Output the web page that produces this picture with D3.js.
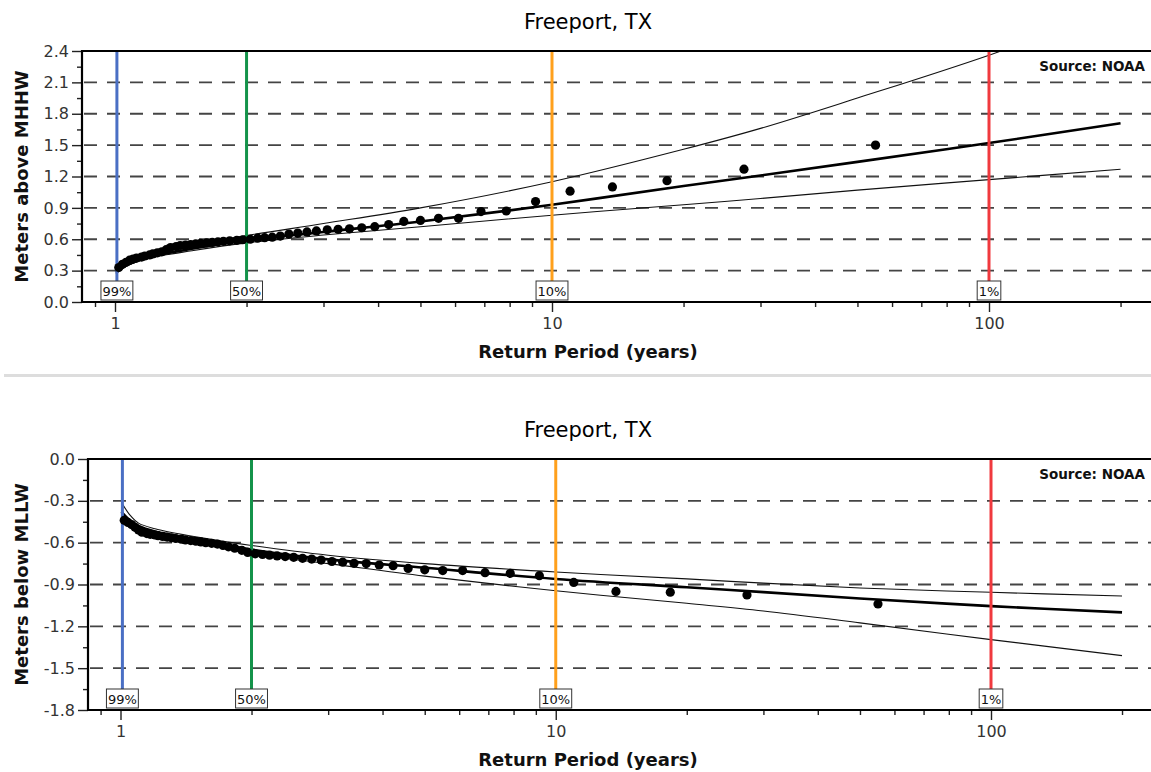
<!DOCTYPE html>
<html>
<head>
<meta charset="utf-8">
<script src="https://cdn.jsdelivr.net/npm/d3@7/dist/d3.min.js"></script>
<style>
  body { margin: 0; background: #fff; }
  svg { display: block; font-family: "DejaVu Sans", sans-serif; }
</style>
</head>
<body>
<svg id="chart" width="1151" height="772"></svg>
<script>
// ---------- DATA ----------
const chartTitle = "Freeport, TX";
const xAxisTitle = "Return Period (years)";
const sourceText = "Source: NOAA";

// Return periods (years) of the ranked annual extremes
const periods = [55, 27.5, 18.33, 13.75, 11, 9.17, 7.86, 6.88, 6.11, 5.5,
  5.0, 4.58, 4.23, 3.93, 3.67, 3.44, 3.24, 3.06, 2.89, 2.75,
  2.62, 2.5, 2.39, 2.29, 2.2, 2.12, 2.04, 1.96, 1.9, 1.83,
  1.77, 1.72, 1.67, 1.62, 1.57, 1.53, 1.49, 1.45, 1.41, 1.38,
  1.34, 1.31, 1.28, 1.25, 1.22, 1.2, 1.17, 1.15, 1.12, 1.1,
  1.08, 1.06, 1.04, 1.02];

// Top panel: annual highest levels (m above MHHW)
const highObs = [1.50, 1.27, 1.16, 1.10, 1.06, 0.96, 0.87, 0.865, 0.80, 0.80,
  0.78, 0.77, 0.74, 0.72, 0.71, 0.70, 0.695, 0.69, 0.68, 0.67,
  0.66, 0.65, 0.63, 0.62, 0.615, 0.61, 0.60, 0.595, 0.59, 0.585,
  0.58, 0.575, 0.57, 0.565, 0.56, 0.555, 0.55, 0.545, 0.54, 0.53,
  0.52, 0.50, 0.48, 0.47, 0.46, 0.45, 0.44, 0.43, 0.42, 0.41,
  0.40, 0.38, 0.36, 0.33];

// Bottom panel: annual lowest levels (m below MLLW)
const lowObs = [-1.04, -0.975, -0.955, -0.95, -0.885, -0.837, -0.82, -0.815, -0.80, -0.80,
  -0.795, -0.785, -0.765, -0.76, -0.75, -0.748, -0.74, -0.735, -0.725, -0.718,
  -0.712, -0.705, -0.70, -0.695, -0.69, -0.685, -0.68, -0.67, -0.655, -0.64,
  -0.63, -0.62, -0.61, -0.605, -0.60, -0.595, -0.59, -0.585, -0.58, -0.575,
  -0.57, -0.565, -0.56, -0.555, -0.55, -0.545, -0.54, -0.535, -0.525, -0.51,
  -0.49, -0.47, -0.455, -0.44];

// Fitted curve & confidence limits, sampled at these return periods
const curvePeriods = [1.005, 1.05, 1.1, 1.2, 1.5, 2, 3, 5, 10, 20, 30, 50, 100, 200];
const highFit   = [0.28, 0.34, 0.38, 0.43, 0.51, 0.59, 0.67, 0.77, 0.93, 1.11, 1.21, 1.34, 1.52, 1.71];
const highUpper = [0.29, 0.355, 0.395, 0.45, 0.54, 0.635, 0.75, 0.90, 1.15, 1.46, 1.66, 1.95, 2.36, 2.82];
const highLower = [0.27, 0.33, 0.37, 0.42, 0.49, 0.565, 0.64, 0.72, 0.83, 0.93, 0.99, 1.07, 1.17, 1.27];
const lowFit    = [-0.38, -0.44, -0.48, -0.52, -0.58, -0.65, -0.72, -0.78, -0.86, -0.92, -0.955, -1.00, -1.055, -1.10];
const lowUpper  = [-0.31, -0.40, -0.46, -0.50, -0.56, -0.62, -0.69, -0.75, -0.81, -0.86, -0.89, -0.925, -0.956, -0.983];
const lowLower  = [-0.42, -0.47, -0.50, -0.54, -0.60, -0.68, -0.75, -0.84, -0.945, -1.035, -1.09, -1.175, -1.295, -1.41];

// Axis ticks
const xMajorTicks = [1, 10, 100];
const xMinorTicks = [0.9, 2, 3, 4, 5, 6, 7, 8, 9, 20, 30, 40, 50, 60, 70, 80, 90, 200];
const highYTicks = [0.0, 0.3, 0.6, 0.9, 1.2, 1.5, 1.8, 2.1, 2.4];
const lowYTicks  = [-1.8, -1.5, -1.2, -0.9, -0.6, -0.3, 0.0];

// Annual exceedance probability markers
const aepLabels  = ["99%", "50%", "10%", "1%"];
const aepPeriods = [1.0101, 2, 10, 100];
const aepColors  = ["#4a6fc4", "#14934a", "#ffa01c", "#f0393e"];

// ---------- DRAWING ----------
const svg = d3.select("#chart");
const W = 1151;

function drawPanel(p) {
  const g = svg.append("g");
  const x = d3.scaleLog().domain([1, 100]).range([p.x1, p.x100]);
  const y = d3.scaleLinear().domain(p.yDomain).range([p.bottom, p.top]);

  const clipId = "clip" + p.id;
  svg.append("clipPath").attr("id", clipId)
    .append("rect").attr("x", p.left).attr("y", p.top)
    .attr("width", W - p.left).attr("height", p.bottom - p.top);

  // title
  g.append("text").attr("x", 588).attr("y", p.top - 22)
    .attr("text-anchor", "middle").attr("font-size", 21).attr("fill", "#000")
    .text(chartTitle);

  // dashed grid
  const grid = p.yTicks.filter(v => v > p.yDomain[0] && v < p.yDomain[1]);
  g.selectAll(".grid").data(grid).join("line")
    .attr("x1", p.left + 2).attr("x2", W)
    .attr("y1", d => y(d)).attr("y2", d => y(d))
    .attr("stroke", "#444").attr("stroke-width", 1.8)
    .attr("stroke-dasharray", "13,10");

  // source
  g.append("text").attr("x", 1145).attr("y", p.top + 20)
    .attr("text-anchor", "end").attr("font-size", 13.5).attr("font-weight", "bold")
    .attr("fill", "#111").text(sourceText);

  // curves
  const line = d3.line()
    .x((d, i) => x(curvePeriods[i]))
    .y(d => y(d))
    .curve(d3.curveCatmullRom.alpha(0.5));
  const cg = g.append("g").attr("clip-path", `url(#${clipId})`);
  cg.append("path").attr("d", line(p.upper)).attr("fill", "none")
    .attr("stroke", "#111").attr("stroke-width", 1.1);
  cg.append("path").attr("d", line(p.lower)).attr("fill", "none")
    .attr("stroke", "#111").attr("stroke-width", 1.1);
  cg.append("path").attr("d", line(p.fit)).attr("fill", "none")
    .attr("stroke", "#000").attr("stroke-width", 2.6);

  // AEP vertical lines
  const boxTop = p.bottom - 21;
  g.selectAll(".aep").data(aepPeriods).join("line")
    .attr("x1", d => x(d)).attr("x2", d => x(d))
    .attr("y1", p.top).attr("y2", boxTop)
    .attr("stroke", (d, i) => aepColors[i]).attr("stroke-width", 3);

  // points
  g.selectAll(".pt").data(p.obs).join("circle")
    .attr("cx", (d, i) => x(periods[i])).attr("cy", d => y(d))
    .attr("r", 4.6).attr("fill", "#000");

  // AEP label boxes
  aepPeriods.forEach((T, i) => {
    const lg = g.append("g");
    const r = lg.append("rect");
    const t = lg.append("text").attr("x", x(T)).attr("y", p.bottom - 6)
      .attr("text-anchor", "middle").attr("font-size", 13).attr("fill", "#111")
      .text(aepLabels[i]);
    const w = t.node().getComputedTextLength() + 3;
    r.attr("x", x(T) - w / 2).attr("y", boxTop).attr("width", w).attr("height", 19)
      .attr("fill", "#fff").attr("stroke", "#333").attr("stroke-width", 1);
  });

  // y axis
  const yAxis = g.append("g").attr("transform", `translate(${p.left},0)`)
    .call(d3.axisLeft(y).tickValues(p.yTicks).tickSize(10).tickPadding(3)
      .tickFormat(d => d.toFixed(1)));
  const yMinor = d3.range(0, p.yTicks.length - 1).map(i => (p.yTicks[i] + p.yTicks[i + 1]) / 2);
  const yAxisMinor = g.append("g").attr("transform", `translate(${p.left},0)`)
    .call(d3.axisLeft(y).tickValues(yMinor).tickSize(5).tickFormat(""));

  // x axis
  const xAxis = g.append("g").attr("transform", `translate(0,${p.bottom})`)
    .call(d3.axisBottom(x).tickValues(xMajorTicks).tickSize(10).tickPadding(6)
      .tickFormat(d3.format("d")));
  const xAxisMinor = g.append("g").attr("transform", `translate(0,${p.bottom})`)
    .call(d3.axisBottom(x).tickValues(xMinorTicks).tickSize(5).tickFormat(""));

  [yAxis, yAxisMinor, xAxis, xAxisMinor].forEach(a => {
    a.select(".domain").remove();
    a.selectAll(".tick line").attr("stroke", "#222").attr("stroke-width", 1.4);
    a.selectAll("text").attr("font-size", 16).attr("fill", "#333")
      .attr("font-family", "DejaVu Sans, sans-serif");
  });

  // frame (left, bottom, top)
  g.append("line").attr("x1", p.left).attr("x2", W).attr("y1", p.top).attr("y2", p.top)
    .attr("stroke", "#000").attr("stroke-width", 2.2);
  g.append("line").attr("x1", p.left).attr("x2", W).attr("y1", p.bottom).attr("y2", p.bottom)
    .attr("stroke", "#000").attr("stroke-width", 2.2);
  g.append("line").attr("x1", p.left).attr("x2", p.left).attr("y1", p.top - 1).attr("y2", p.bottom + 1)
    .attr("stroke", "#000").attr("stroke-width", 2.2);

  // axis titles
  g.append("text").attr("x", 588).attr("y", p.bottom + 56)
    .attr("text-anchor", "middle").attr("font-size", 18).attr("font-weight", "bold")
    .attr("fill", "#111").text(xAxisTitle);
  g.append("text")
    .attr("transform", `translate(28,${(p.top + p.bottom) / 2}) rotate(-90)`)
    .attr("text-anchor", "middle").attr("font-size", 18).attr("font-weight", "bold")
    .attr("fill", "#111").text(p.yTitle);
}

drawPanel({
  id: "top", left: 82, top: 51, bottom: 302, x1: 115, x100: 989,
  yDomain: [0, 2.4], yTicks: highYTicks, yTitle: "Meters above MHHW",
  obs: highObs, fit: highFit, upper: highUpper, lower: highLower
});

// separator
svg.append("rect").attr("x", 4).attr("y", 374).attr("width", W - 4).attr("height", 3)
  .attr("fill", "#dddddd");

drawPanel({
  id: "bot", left: 88, top: 459, bottom: 710, x1: 120.5, x100: 991,
  yDomain: [-1.8, 0], yTicks: lowYTicks, yTitle: "Meters below MLLW",
  obs: lowObs, fit: lowFit, upper: lowUpper, lower: lowLower
});
</script>
</body>
</html>
